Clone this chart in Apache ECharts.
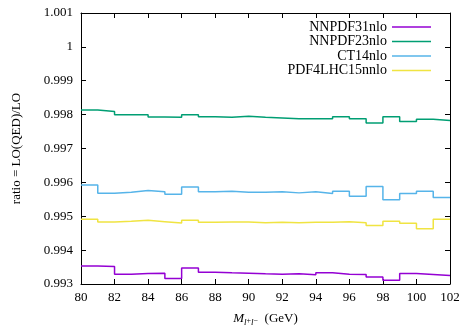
<!DOCTYPE html>
<html>
<head>
<meta charset="utf-8">
<script src="https://cdn.jsdelivr.net/npm/echarts@6/dist/echarts.min.js"></script>
<style>
  html, body { margin: 0; padding: 0; background: #fff; }
  #chart { width: 460px; height: 326px; }
</style>
</head>
<body>
<div id="chart"></div>
<script>
// bin edges, 1 GeV bins from 80 to 102
const binEdges = [80, 81, 82, 83, 84, 85, 86, 87, 88, 89, 90, 91, 92, 93, 94, 95, 96, 97, 98, 99, 100, 101, 102]

const nnpdf31 = [0.99353, 0.99352, 0.99329, 0.99331, 0.99332, 0.99316, 0.99347, 0.99335, 0.99333, 0.99332, 0.99330,
  0.99329, 0.99330, 0.99327, 0.99333, 0.99329, 0.99328, 0.99321, 0.99311, 0.99331, 0.99328, 0.99325]
const nnpdf23 = [0.99814, 0.99809, 0.99800, 0.99800, 0.99793, 0.99792, 0.99800, 0.99794, 0.99792, 0.99795, 0.99792,
  0.99790, 0.99788, 0.99788, 0.99788, 0.99794, 0.99788, 0.99775, 0.99794, 0.99780, 0.99786, 0.99783]
const ct14 = [0.99592, 0.99568, 0.99571, 0.99576, 0.99572, 0.99565, 0.99586, 0.99572, 0.99574, 0.99571, 0.99571,
  0.99572, 0.99569, 0.99572, 0.99567, 0.99574, 0.99559, 0.99588, 0.99549, 0.99567, 0.99574, 0.99555]
const pdf4lhc = [0.99491, 0.99483, 0.99485, 0.99488, 0.99484, 0.99480, 0.99488, 0.99482, 0.99483, 0.99483, 0.99481,
  0.99482, 0.99481, 0.99482, 0.99482, 0.99484, 0.99481, 0.99473, 0.99485, 0.99479, 0.99463, 0.99491]

const seriesNames = ["NNPDF31nlo", "NNPDF23nlo", "CT14nlo", "PDF4LHC15nnlo"]
const seriesColors = ["#9400d3", "#009e73", "#56b4e9", "#f0e442"]

const FONT = "Liberation Serif"

// histogram -> step points (last value repeated at the upper edge)
const toSteps = (vals) => binEdges.map((x, i) => [x, vals[Math.min(i, vals.length - 1)]])

const chart = echarts.init(document.getElementById("chart"))

const tickStyle = { inside: true, length: 5, lineStyle: { color: "#000", width: 1 } }
const lineStyle = { lineStyle: { color: "#000", width: 1 } }

chart.setOption({
  animation: false,
  backgroundColor: "#fff",
  textStyle: { fontFamily: FONT },
  grid: { left: 81, right: 10, top: 13, bottom: 42, containLabel: false, outerBoundsMode: "none" },
  legend: {
    data: seriesNames,
    orient: "vertical",
    align: "right",
    right: 24,
    top: 15,
    icon: "rect",
    itemWidth: 39,
    itemHeight: 1.5,
    itemGap: 0.5,
    textStyle: { fontFamily: FONT, fontSize: 14, color: "#000", lineHeight: 13.5 },
  },
  xAxis: [
    {
      type: "value",
      min: 80,
      max: 102,
      interval: 2,
      position: "bottom",
      axisLine: { onZero: false, ...lineStyle },
      axisTick: tickStyle,
      axisLabel: { color: "#000", fontFamily: FONT, fontSize: 13, margin: 7 },
      splitLine: { show: false },
      name: "{m|M}{s|l}{p|+}{s|l}{p|−}  (GeV)",
      nameLocation: "middle",
      nameGap: 27,
      nameTextStyle: {
        fontFamily: FONT,
        fontSize: 13,
        color: "#000",
        rich: {
          m: { fontFamily: FONT, fontSize: 13, fontStyle: "italic", color: "#000" },
          s: { fontFamily: FONT, fontSize: 9, fontStyle: "italic", color: "#000", padding: [7, 0, 0, 0] },
          p: { fontFamily: FONT, fontSize: 8, color: "#000", padding: [3, 0, 0, 0] },
        },
      },
    },
    {
      type: "value",
      min: 80,
      max: 102,
      interval: 2,
      position: "top",
      axisLine: { onZero: false, ...lineStyle },
      axisTick: tickStyle,
      axisLabel: { show: false },
      splitLine: { show: false },
    },
  ],
  yAxis: [
    {
      type: "value",
      min: 0.993,
      max: 1.001,
      interval: 0.001,
      position: "left",
      axisLine: { show: true, onZero: false, ...lineStyle },
      axisTick: tickStyle,
      axisLabel: {
        color: "#000",
        fontFamily: FONT,
        fontSize: 13,
        margin: 8,
        formatter: (v) => String(Number(v.toFixed(3))),
      },
      splitLine: { show: false },
      name: "ratio = LO(QED)/LO",
      nameLocation: "middle",
      nameGap: 58,
      nameTextStyle: { fontFamily: FONT, fontSize: 13, color: "#000" },
    },
    {
      type: "value",
      min: 0.993,
      max: 1.001,
      interval: 0.001,
      position: "right",
      axisLine: { show: true, onZero: false, ...lineStyle },
      axisTick: tickStyle,
      axisLabel: { show: false },
      splitLine: { show: false },
    },
  ],
  series: [nnpdf31, nnpdf23, ct14, pdf4lhc].map((vals, i) => ({
    name: seriesNames[i],
    type: "line",
    step: "end",
    data: toSteps(vals),
    showSymbol: false,
    symbol: "none",
    color: seriesColors[i],
    lineStyle: { color: seriesColors[i], width: 1.5 },
    z: 10 - i,
  })),
})
</script>
</body>
</html>
